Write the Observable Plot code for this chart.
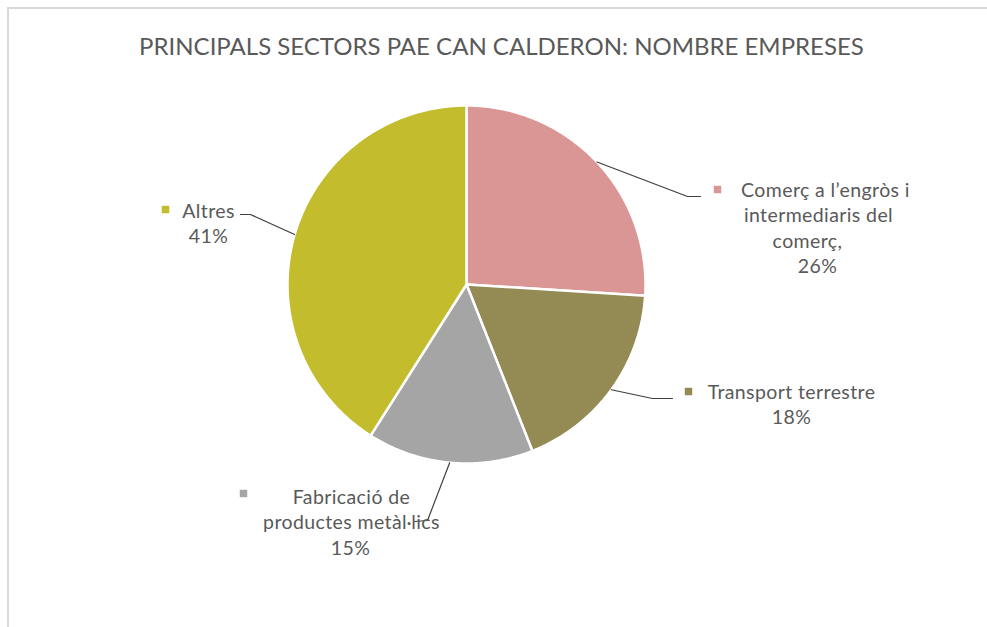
<!DOCTYPE html>
<html><head><meta charset="utf-8">
<script src="https://cdn.jsdelivr.net/npm/d3@7"></script>
<script src="https://cdn.jsdelivr.net/npm/@observablehq/plot@0.6"></script>
<style>
body{margin:0;background:#fff;font-family:Lato, "Open Sans", sans-serif;}
#frame{position:absolute;left:7px;top:7px;width:980px;height:620px;border-top:2px solid #d9d9d9;border-left:2px solid #d9d9d9;box-sizing:border-box;}
#title{position:absolute;left:0;top:31px;width:1003px;text-align:center;font-size:24px;color:#595959;white-space:nowrap;}
#chart{position:absolute;left:0;top:0;}
#chart svg text{letter-spacing:0.4px;}
</style></head><body>
<div id="frame"></div>
<div id="title">PRINCIPALS SECTORS PAE CAN CALDERON: NOMBRE EMPRESES</div>
<div id="chart"></div>
<script>
// ---- data ----
const categories = ["Comerç a l’engròs i intermediaris del comerç", "Transport terrestre", "Fabricació de productes metàl·lics", "Altres"];
const labelLines = [
  ["Comerç a l’engròs i", "intermediaris del", "comerç,", "26%"],
  ["Transport terrestre", "18%"],
  ["Fabricació de", "productes metàl·lics", "15%"],
  ["Altres", "41%"]
];
const values = [26, 18, 15, 41];
const colors = ["#D99694", "#948A54", "#A5A5A5", "#C3BC2D"];

// ---- layout (pixels) ----
const CX = 466, CY = 284, R = 179;
const W = 987, H = 627;
// label layout: text centre x per line, first baseline y, marker position, leader elbow and end
const labelLayout = [
  {cx: [825, 818, 807, 817], y0: 196, mx: 717, my: 189, elbow: [687, 196], end: [700, 196]},
  {cx: [791, 791], y0: 398, mx: 688, my: 391, elbow: [652, 398], end: [672, 398]},
  {cx: [351, 351, 350], y0: 503, mx: 243, my: 493, elbow: [427, 520], end: [414, 521]},
  {cx: [208, 208], y0: 217, mx: 165, my: 209, elbow: [250, 214], end: [240, 214]}
];
const lineStep = 25.5;

const ux = px => (px - CX) / R;
const uy = py => (CY - py) / R;

const pie = d3.pie().sort(null).value(d => d)(values);

const sliceMarks = pie.map((p, i) => {
  const pts = [{x: 0, y: 0}];
  const n = Math.max(2, Math.ceil((p.endAngle - p.startAngle) / (Math.PI / 360)));
  for (let k = 0; k <= n; k++) {
    const a = p.startAngle + (p.endAngle - p.startAngle) * k / n;
    pts.push({x: Math.sin(a), y: Math.cos(a)});
  }
  return Plot.line(pts, {x: "x", y: "y", curve: "linear-closed", fill: colors[i], stroke: "white", strokeWidth: 2.5, strokeLinejoin: "round"});
});

const leaders = [];
pie.forEach((p, i) => {
  const a = (p.startAngle + p.endAngle) / 2;
  const L = labelLayout[i];
  leaders.push({k: i, x: Math.sin(a), y: Math.cos(a)});
  leaders.push({k: i, x: ux(L.elbow[0]), y: uy(L.elbow[1])});
  leaders.push({k: i, x: ux(L.end[0]), y: uy(L.end[1])});
});

const texts = [];
labelLines.forEach((lines, i) => {
  const L = labelLayout[i];
  lines.forEach((t, j) => texts.push({t, x: ux(L.cx[j]), y: uy(L.y0 + j * lineStep)}));
});
const markers = labelLayout.map((L, i) => ({x: ux(L.mx), y: uy(L.my), c: categories[i]}));

const chart = Plot.plot({
  width: W, height: H,
  margin: 0,
  x: {type: "linear", domain: [ux(0), ux(W)], range: [0, W], axis: null},
  y: {type: "linear", domain: [uy(H), uy(0)], range: [H, 0], axis: null},
  color: {domain: categories, range: colors},
  style: {fontFamily: "Lato, 'Open Sans', sans-serif", background: "transparent"},
  marks: [
    ...sliceMarks,
    Plot.line(leaders, {x: "x", y: "y", z: "k", stroke: "#3f3f3f", strokeWidth: 1.2}),
    Plot.dot(markers, {x: "x", y: "y", symbol: "square", r: 4.2, fill: "c", stroke: null}),
    Plot.text(texts, {x: "x", y: "y", text: "t", textAnchor: "middle", lineAnchor: "bottom", fontSize: 19.5, fill: "#595959"})
  ]
});
document.getElementById("chart").appendChild(chart);
</script>
</body></html>
